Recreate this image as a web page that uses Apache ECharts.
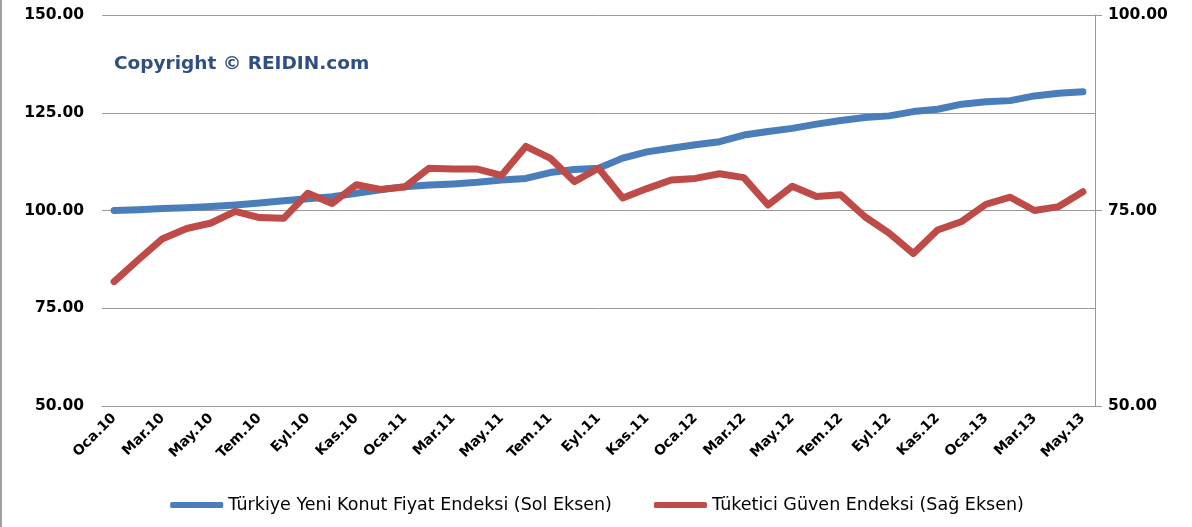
<!DOCTYPE html>
<html>
<head>
<meta charset="utf-8">
<script src="https://cdn.jsdelivr.net/npm/echarts@6/dist/echarts.min.js"></script>
<style>
  html, body { margin: 0; padding: 0; background: #fff; }
  #chart { width: 1192px; height: 527px; box-sizing: border-box; border-left: 2px solid #a0a0a0; }
</style>
</head>
<body>
<div id="chart"></div>
<script>
// aylar: Oca.10 - May.13
var months = ['Oca.10','Şub.10','Mar.10','Nis.10','May.10','Haz.10','Tem.10','Ağu.10','Eyl.10','Eki.10','Kas.10','Ara.10',
              'Oca.11','Şub.11','Mar.11','Nis.11','May.11','Haz.11','Tem.11','Ağu.11','Eyl.11','Eki.11','Kas.11','Ara.11',
              'Oca.12','Şub.12','Mar.12','Nis.12','May.12','Haz.12','Tem.12','Ağu.12','Eyl.12','Eki.12','Kas.12','Ara.12',
              'Oca.13','Şub.13','Mar.13','Nis.13','May.13'];

// Türkiye Yeni Konut Fiyat Endeksi (sol eksen)
var konutEndeksi = [100.0, 100.2, 100.5, 100.7, 101.0, 101.4, 101.9, 102.5, 103.0, 103.5, 104.4, 105.3,
                    106.1, 106.5, 106.8, 107.2, 107.8, 108.2, 109.7, 110.5, 110.8, 113.4, 115.0, 115.9,
                    116.8, 117.6, 119.3, 120.2, 121.0, 122.1, 123.0, 123.8, 124.2, 125.3, 125.9, 127.2,
                    127.8, 128.1, 129.3, 130.0, 130.4];

// Tüketici Güven Endeksi (sağ eksen)
var guvenEndeksi = [65.9, 68.7, 71.4, 72.7, 73.4, 74.9, 74.1, 74.0, 77.2, 75.9, 78.3, 77.7,
                    78.0, 80.4, 80.3, 80.3, 79.5, 83.2, 81.7, 78.7, 80.4, 76.6, 77.8, 78.9,
                    79.1, 79.7, 79.2, 75.7, 78.1, 76.8, 77.0, 74.2, 72.1, 69.5, 72.5, 73.6,
                    75.8, 76.7, 75.0, 75.5, 77.4];

var solTicks = { min: 50, max: 150, interval: 25 };
var sagTicks = { min: 50, max: 100, interval: 25 };

var font = '"DejaVu Sans", sans-serif';

var myChart = echarts.init(document.getElementById('chart'));

var options = {
    animation: false,
    backgroundColor: '#fff',
    color: ['#4a7ebb', '#be4b48'],
    grid: { left: 100, right: 97, top: 15, bottom: 121 },
    graphic: [{
        type: 'text',
        left: 112,
        top: 55,
        style: { text: 'Copyright © REIDIN.com', fill: '#2f4f80', font: 'bold 18.5px ' + font }
    }],
    legend: {
        bottom: 8,
        left: 'center',
        itemWidth: 53,
        itemHeight: 6,
        itemGap: 42,
        icon: 'roundRect',
        textStyle: { fontFamily: font, fontSize: 17.5, color: '#000' },
        data: ['Türkiye Yeni Konut Fiyat Endeksi (Sol Eksen)', 'Tüketici Güven Endeksi (Sağ Eksen)']
    },
    xAxis: {
        type: 'category',
        boundaryGap: true,
        data: months,
        axisLine: { show: true, lineStyle: { color: '#999' } },
        axisTick: { show: false },
        axisLabel: {
            interval: 1,
            rotate: 45,
            margin: 10,
            color: '#000',
            fontFamily: font,
            fontWeight: 'bold',
            fontSize: 14
        }
    },
    yAxis: [{
        type: 'value',
        position: 'left',
        min: solTicks.min,
        max: solTicks.max,
        interval: solTicks.interval,
        axisLine: { show: false },
        axisTick: { show: false },
        splitLine: { show: true, lineStyle: { color: '#999' } },
        axisLabel: {
            margin: 18,
            color: '#000',
            fontFamily: font,
            fontWeight: 'bold',
            fontSize: 15.5,
            formatter: function (v) { return v.toFixed(2); }
        }
    }, {
        type: 'value',
        position: 'right',
        min: sagTicks.min,
        max: sagTicks.max,
        interval: sagTicks.interval,
        axisLine: { show: true, lineStyle: { color: '#999' } },
        axisTick: { show: true, length: 7, lineStyle: { color: '#999' } },
        splitLine: { show: false },
        axisLabel: {
            margin: 13,
            color: '#000',
            fontFamily: font,
            fontWeight: 'bold',
            fontSize: 15.5,
            formatter: function (v) { return v.toFixed(2); }
        }
    }],
    series: [{
        name: 'Türkiye Yeni Konut Fiyat Endeksi (Sol Eksen)',
        type: 'line',
        yAxisIndex: 0,
        data: konutEndeksi,
        symbol: 'none',
        lineStyle: { width: 7, cap: 'round', join: 'round' }
    }, {
        name: 'Tüketici Güven Endeksi (Sağ Eksen)',
        type: 'line',
        yAxisIndex: 1,
        data: guvenEndeksi,
        symbol: 'none',
        lineStyle: { width: 7, cap: 'round', join: 'round' }
    }]
};

myChart.setOption(options);
</script>
</body>
</html>
